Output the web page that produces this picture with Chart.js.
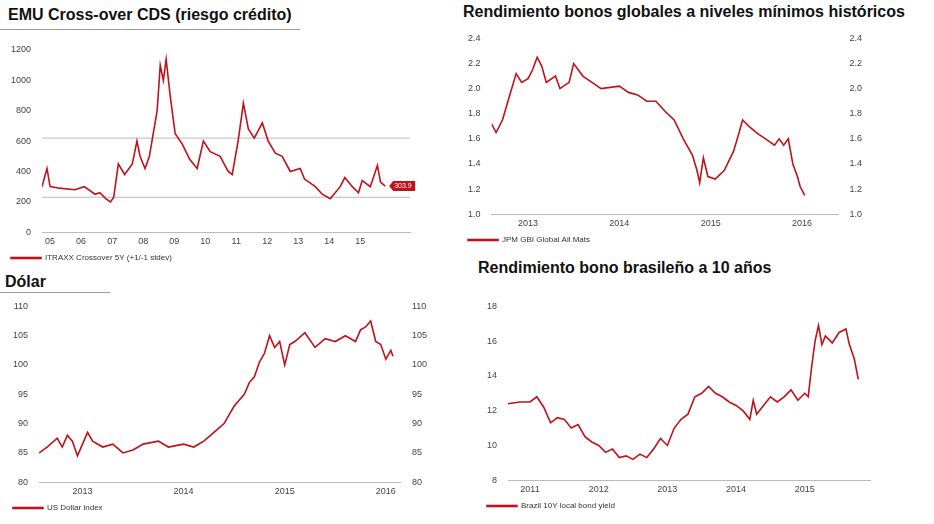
<!DOCTYPE html>
<html><head><meta charset="utf-8">
<script src="https://cdn.jsdelivr.net/npm/chart.js@4"></script>
<style>
body{margin:0;width:934px;height:524px;background:#fff;position:relative;font-family:"Liberation Sans",Arial,sans-serif;overflow:hidden}
.t{position:absolute;font-weight:bold;font-size:16px;color:#111;white-space:nowrap}
.u{position:absolute;height:1px;background:#999}
canvas{position:absolute}
</style></head><body>
<div class="t" style="left:8px;top:6px">EMU Cross-over CDS (riesgo crédito)</div>
<div class="u" style="left:0;top:29px;width:300px"></div>
<div class="t" style="left:463px;top:3px">Rendimiento bonos globales a niveles mínimos históricos</div>
<div class="t" style="left:5px;top:273px">Dólar</div>
<div class="u" style="left:0;top:292px;width:110px"></div>
<div class="t" style="left:478px;top:259px">Rendimiento bono brasileño a 10 años</div>
<canvas id="c1" style="left:0;top:40px"></canvas>
<canvas id="c2" style="left:455px;top:30px"></canvas>
<canvas id="c3" style="left:0;top:298px"></canvas>
<canvas id="c4" style="left:470px;top:298px"></canvas>
<script>
const cdsX=[2004.74,2004.9,2005,2005.3,2005.8,2006.1,2006.45,2006.6,2006.8,2006.95,2007.05,2007.2,2007.4,2007.65,2007.8,2007.9,2008.06,2008.2,2008.45,2008.55,2008.65,2008.74,2008.87,2009.03,2009.26,2009.5,2009.74,2009.94,2010.16,2010.48,2010.74,2010.87,2011.06,2011.23,2011.39,2011.58,2011.84,2012.03,2012.26,2012.48,2012.74,2013.06,2013.2,2013.55,2013.77,2014.03,2014.35,2014.5,2014.74,2014.94,2015.06,2015.32,2015.55,2015.65,2015.8];
const cdsY=[300,420,300,290,280,300,250,260,220,200,230,450,380,450,600,500,420,500,800,1100,1000,1140,900,650,580,480,420,600,530,500,400,380,600,850,680,620,720,600,520,500,400,420,350,300,250,220,300,360,300,260,340,300,440,330,303.9];
const cdsBands=[620,230];
const cdsYears=[2005,2006,2007,2008,2009,2010,2011,2012,2013,2014,2015];
const cdsLabels=['05','06','07','08','09','10','11','12','13','14','15'];
const gbiX=[2012.6,2012.65,2012.72,2012.8,2012.87,2012.93,2013,2013.05,2013.1,2013.15,2013.2,2013.3,2013.35,2013.45,2013.5,2013.6,2013.7,2013.8,2014,2014.1,2014.2,2014.3,2014.4,2014.5,2014.6,2014.7,2014.8,2014.85,2014.88,2014.92,2014.97,2015.05,2015.15,2015.25,2015.3,2015.35,2015.42,2015.5,2015.6,2015.7,2015.75,2015.8,2015.85,2015.9,2015.95,2015.98,2016.03];
const gbiY=[1.72,1.65,1.75,1.95,2.12,2.05,2.08,2.15,2.25,2.18,2.05,2.1,2.0,2.05,2.2,2.1,2.05,2.0,2.02,1.97,1.95,1.9,1.9,1.82,1.75,1.6,1.47,1.35,1.25,1.45,1.3,1.28,1.35,1.5,1.62,1.75,1.7,1.65,1.6,1.55,1.6,1.55,1.6,1.4,1.3,1.22,1.15];
const gbiYears=[2013,2014,2015,2016];
const usdX=[2012.57,2012.65,2012.75,2012.8,2012.85,2012.9,2012.95,2013,2013.05,2013.1,2013.2,2013.3,2013.4,2013.5,2013.6,2013.75,2013.85,2014,2014.1,2014.2,2014.3,2014.4,2014.5,2014.6,2014.65,2014.7,2014.75,2014.8,2014.85,2014.9,2014.95,2015,2015.05,2015.1,2015.2,2015.3,2015.4,2015.5,2015.6,2015.7,2015.75,2015.8,2015.85,2015.9,2015.95,2016,2016.05,2016.07];
const usdY=[85,86,87.5,86,88,87,84.5,86.5,88.5,87,86,86.5,85,85.5,86.5,87,86,86.5,86,87,88.5,90,93,95,97,98,100.5,102,105,103,104,100,103.5,104,105.5,103,104.5,104,105,104,106,106.5,107.5,104,103.5,101,102.5,101.5];
const usdYears=[2013,2014,2015,2016];
const brlX=[2010.68,2010.85,2011,2011.1,2011.2,2011.3,2011.4,2011.5,2011.6,2011.7,2011.8,2011.9,2012,2012.1,2012.2,2012.3,2012.4,2012.5,2012.6,2012.7,2012.8,2012.9,2013,2013.1,2013.2,2013.3,2013.4,2013.5,2013.6,2013.7,2013.8,2013.9,2014,2014.1,2014.2,2014.25,2014.3,2014.4,2014.5,2014.6,2014.7,2014.8,2014.9,2015,2015.05,2015.1,2015.15,2015.2,2015.25,2015.3,2015.4,2015.5,2015.6,2015.65,2015.72,2015.78];
const brlY=[12.4,12.5,12.5,12.8,12.2,11.3,11.6,11.5,11.0,11.2,10.5,10.2,10.0,9.6,9.8,9.3,9.4,9.2,9.5,9.3,9.8,10.4,10.0,11.0,11.5,11.8,12.8,13.0,13.4,13.0,12.8,12.5,12.3,12.0,11.5,12.6,11.8,12.3,12.8,12.5,12.8,13.2,12.6,13.0,12.8,14.5,16.0,16.9,15.8,16.3,15.9,16.5,16.7,15.8,15.0,13.8];
const brlYears=[2011,2012,2013,2014,2015];

const RED='#c0121b';
const tickFont={family:'"Liberation Sans",Arial,sans-serif',size:9};
function pts(xs,ys){return xs.map((x,i)=>({x:x,y:ys[i]}));}
function mk(id,w,h,xs,ys,label,xmin,xmax,years,ylabels,ymin,ymax,ystep,right,pad,extra){
  const c=document.getElementById(id);c.width=w;c.height=h;
  const scales={
    x:{type:'linear',min:xmin,max:xmax,grid:{display:false,drawTicks:false},border:{color:'#bbb'},
       afterBuildTicks:s=>{s.ticks=years.map(v=>({value:v}));},
       ticks:{font:tickFont,color:'#444',padding:4,callback:(v)=>{const i=years.indexOf(v);return ylabels?ylabels[i]:String(v);}}},
    y:{min:ymin,max:ymax,grid:{display:false},border:{display:false},
       ticks:{stepSize:ystep,font:tickFont,color:'#444',callback:v=>ystep<1?v.toFixed(1):v}}
  };
  if(right){scales.y2={position:'right',min:ymin,max:ymax,grid:{display:false},border:{display:false},
       ticks:{stepSize:ystep,font:tickFont,color:'#444',callback:v=>ystep<1?v.toFixed(1):v}};}
  return new Chart(c,{type:'line',
    data:{datasets:[{label:label,data:pts(xs,ys),borderColor:RED,backgroundColor:RED,borderWidth:1.6,pointRadius:0,tension:0}]},
    options:{responsive:false,animation:false,layout:{padding:pad},
      plugins:{legend:{position:'bottom',align:'start',labels:{boxWidth:30,boxHeight:1,font:{size:8,family:'"Liberation Sans",Arial,sans-serif'},color:'#333',padding:3}},tooltip:{enabled:false}},
      scales:scales},plugins:extra?[extra]:[]});
}
const cdsPlugin={id:'bands',beforeDatasetsDraw(ch){const {ctx,chartArea:a,scales:{y}}=ch;ctx.save();ctx.strokeStyle='#bbb';ctx.lineWidth=1;
  cdsBands.forEach(v=>{const py=y.getPixelForValue(v);ctx.beginPath();ctx.moveTo(a.left,py);ctx.lineTo(a.right,py);ctx.stroke();});ctx.restore();},
  afterDatasetsDraw(ch){const {ctx,scales:{x,y}}=ch;const v=cdsY[cdsY.length-1];const px=x.getPixelForValue(cdsX[cdsX.length-1])+4,py=y.getPixelForValue(v);
  ctx.save();ctx.fillStyle=RED;ctx.beginPath();ctx.moveTo(px,py);ctx.lineTo(px+4,py-5);ctx.lineTo(px+26,py-5);ctx.lineTo(px+26,py+5);ctx.lineTo(px+4,py+5);ctx.closePath();ctx.fill();
  ctx.fillStyle='#fff';ctx.font='7px "Liberation Sans",Arial';ctx.textBaseline='middle';ctx.fillText(v.toFixed(1),px+5,py);ctx.restore();}};
mk('c1',430,232,cdsX,cdsY,'ITRAXX Crossover 5Y (+1/-1 stdev)',2004.74,2016.6,cdsYears,cdsLabels,0,1200,200,false,{left:8,right:20,top:10,bottom:0},cdsPlugin);
mk('c2',420,224,gbiX,gbiY,'JPM GBI Global All Mats',2012.6,2016.4,gbiYears,null,1.0,2.4,0.2,true,{left:10,right:10,top:5,bottom:0});
mk('c3',440,224,usdX,usdY,'US Dollar index',2012.57,2016.15,usdYears,null,80,110,5,true,{left:10,right:10,top:8,bottom:0});
mk('c4',430,222,brlX,brlY,'Brazil 10Y local bond yield',2010.68,2015.95,brlYears,null,8,18,2,false,{left:14,right:30,top:8,bottom:0});
</script></body></html>
